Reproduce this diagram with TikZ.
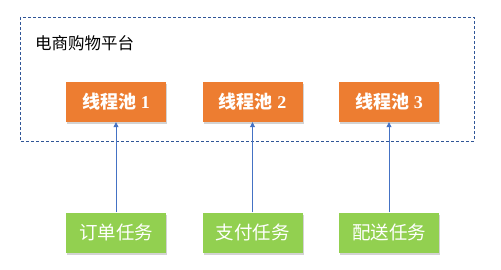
\documentclass[tikz,border=0pt]{standalone}
\usepackage{fontspec}
\setmainfont{Liberation Serif}
\newfontfamily\cjk{Noto Sans CJK SC}
\usetikzlibrary{arrows.meta,shadows}

\definecolor{poolorange}{HTML}{ED7D31}
\definecolor{taskgreen}{HTML}{92D050}
\definecolor{linkblue}{HTML}{4472C4}
\definecolor{frameblue}{HTML}{2F5597}

\begin{document}
\begin{tikzpicture}[x=1pt,y=-1pt,
  box/.style={minimum width=100pt, minimum height=40pt, inner sep=0pt, text=white,
    drop shadow={shadow xshift=1.2pt, shadow yshift=-2pt, opacity=0.35}},
  pool/.style={box, fill=poolorange, font=\fontsize{18}{21}\selectfont\bfseries},
  task/.style={box, fill=taskgreen, font=\cjk\fontsize{18.5}{22}\selectfont},
  link/.style={linkblue, line width=0.8pt, -{Triangle[width=5pt,length=5pt]}}]
\useasboundingbox (0,0) rectangle (501,270);

% Cadre de la plateforme
\draw[frameblue, line width=0.8pt, dash pattern=on 3pt off 2pt] (20,17) rectangle (474,141);
\node[anchor=west, inner sep=0pt, font=\cjk\fontsize{16.5}{19}\selectfont] (platform) at (35,43.5) {电商购物平台};

% Pools
\node[pool] (pool1) at (116,102) {{\cjk\bfseries 线程池} 1};
\node[pool] (pool2) at (252.5,102) {{\cjk\bfseries 线程池} 2};
\node[pool] (pool3) at (389,102) {{\cjk\bfseries 线程池} 3};

% Tâches
\node[task] (order) at (116,232.5) {订单任务};
\node[task] (pay) at (252.5,232.5) {支付任务};
\node[task] (ship) at (389,232.5) {配送任务};

\draw[link] (order) -- (pool1);
\draw[link] (pay) -- (pool2);
\draw[link] (ship) -- (pool3);
\end{tikzpicture}
\end{document}
